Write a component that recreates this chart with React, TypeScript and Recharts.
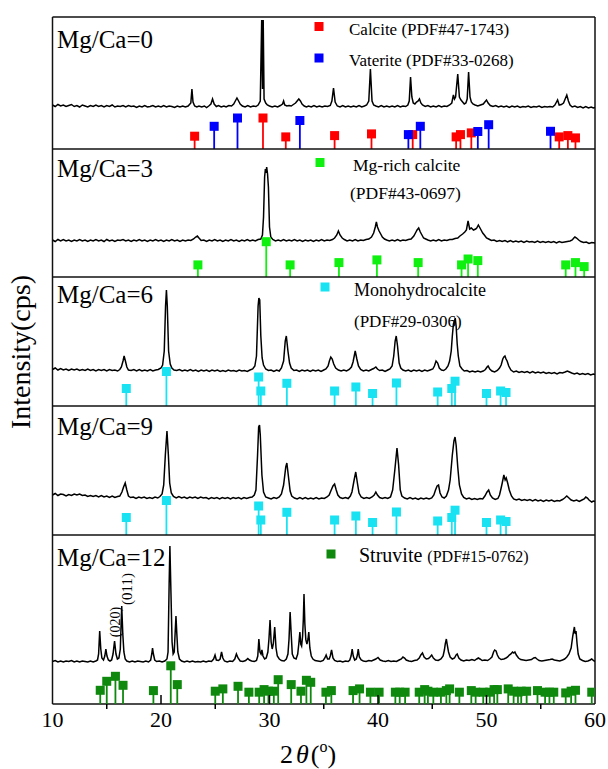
import React from 'react';
import { ComposedChart, Line, Scatter, XAxis, YAxis, ReferenceLine, ReferenceDot } from 'recharts';

type Pt = [number, number];

const FONT = '"Liberation Serif", "Times New Roman", serif';
const CHART_W = 608;
const MARGIN_L = 52.5;
const MARGIN_R = 13;
const PAD = 3;

const TICKS = [10, 15, 20, 25, 30, 35, 40, 45, 50, 55, 60];

// measured patterns, [2θ, intensity (a.u.)]
const scan0: Pt[] = [
  [10, 44], [10.25, 42.5], [10.5, 44.5], [10.75, 43], [11, 44], [11.25, 42.5], [11.5, 43.5], [11.75, 44.5], [12, 42.5], [12.25, 43.5],
  [12.5, 42], [12.75, 44], [13, 43], [13.25, 42], [13.5, 43.5], [13.75, 42.5], [14, 44], [14.25, 42.5], [14.5, 43.5], [14.75, 42],
  [15, 43.5], [15.25, 42.5], [15.5, 44], [15.75, 42], [16, 43], [16.25, 42.5], [16.5, 43.5], [16.75, 42], [17, 43.5], [17.25, 42.5],
  [17.5, 43], [17.75, 41.5], [18, 43], [18.25, 42], [18.5, 43.5], [18.75, 42], [19, 42.5], [19.25, 43.5], [19.5, 42], [19.75, 43],
  [20, 42], [20.25, 43.5], [20.5, 42], [20.75, 43], [21, 42.5], [21.25, 41.5], [21.5, 43], [21.75, 42], [22, 43], [22.25, 42],
  [22.5, 43], [22.75, 46], [22.85, 60], [22.95, 47], [23.1, 43], [23.3, 42], [23.5, 43], [23.75, 42], [24, 43], [24.2, 41.5],
  [24.4, 43], [24.6, 45], [24.75, 50], [24.9, 45], [25.1, 42.5], [25.3, 43.5], [25.55, 42], [25.8, 43], [26, 42], [26.25, 43.5],
  [26.5, 43], [26.7, 45], [26.85, 48], [27.0, 51], [27.15, 48], [27.3, 45], [27.5, 43], [27.75, 42], [28, 43.5], [28.25, 42],
  [28.5, 43], [28.75, 42.5], [28.95, 44], [29.15, 48], [29.28, 129], [29.36, 60], [29.42, 129], [29.5, 50], [29.65, 46], [29.8, 44],
  [30, 43], [30.25, 42], [30.5, 43], [30.75, 42], [31, 43.5], [31.2, 45], [31.3, 48], [31.4, 44], [31.6, 43], [31.8, 43.5],
  [32.0, 43], [32.2, 44.5], [32.4, 46], [32.55, 48], [32.7, 50], [32.85, 48], [33.0, 45], [33.2, 43], [33.4, 42], [33.6, 43],
  [33.85, 42], [34.1, 43.5], [34.35, 42], [34.6, 43], [34.85, 42], [35.1, 43], [35.35, 42.5], [35.6, 43.5], [35.75, 48], [35.9, 61],
  [36.05, 47], [36.25, 43], [36.5, 42], [36.75, 43.5], [37, 42], [37.25, 43], [37.5, 42], [37.75, 43], [38, 42], [38.25, 43.5],
  [38.5, 42], [38.75, 43], [38.95, 44], [39.15, 48], [39.3, 80], [39.45, 48], [39.6, 44], [39.8, 43], [40.05, 42], [40.3, 43.5],
  [40.55, 42], [40.8, 43], [41.05, 42], [41.3, 43], [41.55, 42], [41.8, 43.5], [42.05, 42], [42.3, 43], [42.55, 42.5], [42.75, 44],
  [42.88, 48], [43.0, 72], [43.12, 52], [43.25, 46], [43.4, 45], [43.55, 47], [43.7, 48], [43.82, 50], [43.95, 46], [44.1, 44],
  [44.35, 42.5], [44.6, 43.5], [44.85, 42], [45.1, 43], [45.35, 42], [45.6, 43.5], [45.85, 42], [46.1, 43], [46.35, 42.5], [46.6, 44],
  [46.8, 46], [46.95, 54], [47.05, 50], [47.15, 52], [47.35, 75], [47.5, 52], [47.65, 49], [47.8, 47], [47.95, 45], [48.1, 46],
  [48.22, 50], [48.35, 77], [48.48, 52], [48.6, 47], [48.75, 45], [48.95, 44], [49.2, 43], [49.45, 44], [49.7, 45], [49.85, 47],
  [50.0, 49], [50.15, 46], [50.35, 43.5], [50.6, 42.5], [50.85, 43.5], [51.1, 42], [51.35, 43], [51.6, 42], [51.85, 43], [52.1, 41.5],
  [52.35, 43], [52.6, 42], [52.85, 43], [53.1, 41.5], [53.35, 42.5], [53.6, 42], [53.85, 43], [54.1, 41.5], [54.35, 42.5], [54.6, 42],
  [54.85, 43], [55.1, 41.5], [55.35, 42.5], [55.6, 42], [55.85, 42.5], [56.1, 42], [56.3, 44], [56.45, 47], [56.55, 49], [56.7, 44],
  [56.9, 44.5], [57.1, 46], [57.25, 50], [57.4, 54], [57.55, 48], [57.7, 44], [57.9, 42], [58.15, 43], [58.4, 41.5], [58.65, 42.5],
  [58.9, 41], [59.15, 42.5], [59.4, 41], [59.65, 42], [59.85, 41], [60, 41.5],
];

const scan3: Pt[] = [
  [10, 37], [10.25, 35.5], [10.5, 37.5], [10.75, 36], [11, 37.5], [11.25, 36], [11.5, 37], [11.75, 35.5], [12, 37], [12.25, 36],
  [12.5, 37.5], [12.75, 36], [13, 37], [13.25, 35.5], [13.5, 37], [13.75, 36], [14, 37.5], [14.25, 36], [14.5, 37], [14.75, 35.5],
  [15, 37.5], [15.25, 36], [15.5, 37], [15.75, 35.5], [16, 37], [16.25, 36.5], [16.5, 37.5], [16.75, 36], [17, 37], [17.25, 35.5],
  [17.5, 37], [17.75, 36], [18, 37.5], [18.25, 36], [18.5, 37], [18.75, 35.5], [19, 37], [19.25, 36], [19.5, 37.5], [19.75, 36],
  [20, 37], [20.25, 35.5], [20.5, 37], [20.75, 36], [21, 37.5], [21.25, 36], [21.5, 37], [21.75, 35.5], [22, 37], [22.25, 36],
  [22.5, 37], [22.75, 36.5], [23.0, 38], [23.2, 40], [23.35, 41], [23.5, 39], [23.7, 36.5], [23.95, 37], [24.2, 35.5], [24.45, 37],
  [24.7, 36], [24.95, 37.5], [25.2, 36], [25.45, 37], [25.7, 35.5], [25.95, 37], [26.2, 36], [26.45, 37.5], [26.7, 36], [26.95, 37],
  [27.2, 35.5], [27.45, 37], [27.7, 36], [27.95, 37.5], [28.2, 36], [28.45, 37], [28.7, 36], [28.95, 37.5], [29.2, 38], [29.35, 42],
  [29.45, 60], [29.55, 100], [29.62, 108], [29.68, 104], [29.74, 110], [29.82, 103], [29.9, 90], [30.0, 50], [30.12, 40], [30.3, 37.5],
  [30.55, 36], [30.8, 37], [31.05, 36], [31.3, 37.5], [31.55, 36], [31.8, 37], [32.05, 36], [32.3, 37.5], [32.55, 36], [32.8, 37],
  [33.05, 35.5], [33.3, 37], [33.55, 36], [33.8, 37], [34.05, 35.5], [34.3, 37], [34.55, 36], [34.8, 37.5], [35.05, 36], [35.3, 37],
  [35.55, 36.5], [35.8, 37.5], [36.0, 39], [36.2, 42], [36.35, 46], [36.5, 42], [36.7, 39], [36.9, 37.5], [37.15, 36], [37.4, 37],
  [37.65, 36], [37.9, 37.5], [38.15, 36], [38.4, 37], [38.65, 36.5], [38.9, 37.5], [39.15, 38], [39.4, 40], [39.6, 44], [39.75, 50],
  [39.85, 55], [39.95, 50], [40.1, 46], [40.25, 43], [40.4, 40], [40.6, 38], [40.8, 37], [41.05, 36], [41.3, 37], [41.55, 36],
  [41.8, 37.5], [42.05, 36], [42.3, 37], [42.55, 36.5], [42.8, 37.5], [43.05, 38], [43.3, 41], [43.5, 45], [43.6, 47], [43.75, 49],
  [43.9, 45], [44.05, 42], [44.2, 39], [44.4, 38], [44.6, 37], [44.85, 36], [45.1, 37], [45.35, 36], [45.6, 37.5], [45.85, 36],
  [46.1, 37], [46.35, 36.5], [46.6, 37.5], [46.85, 37.5], [47.1, 38.5], [47.35, 39], [47.55, 41], [47.8, 43], [48.0, 45], [48.15, 47],
  [48.3, 56], [48.45, 48], [48.6, 49], [48.8, 47], [49.0, 48], [49.1, 49], [49.25, 52], [49.35, 50], [49.5, 47], [49.65, 44],
  [49.8, 42], [50.0, 39], [50.2, 38], [50.45, 36.5], [50.7, 37], [50.95, 35.5], [51.2, 36.5], [51.45, 35.5], [51.7, 36.5], [51.95, 35],
  [52.2, 36.5], [52.45, 35], [52.7, 36], [52.95, 35], [53.2, 36], [53.45, 34.5], [53.7, 36], [53.95, 35], [54.2, 35.5], [54.45, 34.5],
  [54.7, 36], [54.95, 34.5], [55.2, 35.5], [55.45, 34.5], [55.7, 35.5], [55.95, 34.5], [56.2, 35.5], [56.45, 34], [56.7, 35.5], [56.95, 34.5],
  [57.2, 35], [57.45, 35.5], [57.7, 36], [57.9, 37], [58.05, 39], [58.15, 40], [58.3, 39], [58.5, 37], [58.7, 35.5], [58.95, 34.5],
  [59.2, 35], [59.45, 33.5], [59.7, 34.5], [60, 34],
];

const scan6: Pt[] = [
  [10, 36.5], [10.25, 38], [10.5, 36], [10.75, 37.5], [11, 36], [11.25, 37], [11.5, 35.5], [11.75, 37], [12, 36], [12.25, 37],
  [12.5, 35.5], [12.75, 36.5], [13, 35.5], [13.25, 37], [13.5, 35.5], [13.75, 36.5], [14, 35], [14.25, 36.5], [14.5, 35.5], [14.75, 36.5],
  [15, 35], [15.25, 36.5], [15.5, 35.5], [15.75, 36], [16, 35], [16.2, 36.5], [16.35, 39], [16.5, 45], [16.6, 50], [16.72, 45],
  [16.85, 39], [17.0, 36], [17.25, 35.5], [17.5, 36.5], [17.75, 35], [18, 36.5], [18.25, 35], [18.5, 36], [18.75, 35], [19, 36.5],
  [19.25, 35], [19.5, 36], [19.75, 36.5], [20.0, 38], [20.15, 41], [20.3, 55], [20.42, 100], [20.5, 116], [20.58, 100], [20.7, 55],
  [20.85, 42], [21.0, 38], [21.2, 36], [21.45, 35.5], [21.7, 36.5], [21.95, 35], [22.2, 36], [22.45, 35], [22.7, 36.5], [22.95, 35],
  [23.2, 36], [23.45, 34.5], [23.7, 36], [23.95, 35], [24.2, 36], [24.45, 34.5], [24.7, 36], [24.95, 35], [25.2, 36], [25.45, 34.5],
  [25.7, 35.5], [25.95, 34.5], [26.2, 36], [26.45, 35], [26.7, 35.5], [26.95, 34.5], [27.2, 36], [27.45, 35], [27.7, 35.5], [27.95, 34.5],
  [28.2, 36], [28.45, 37], [28.65, 40], [28.8, 50], [28.95, 100], [29.02, 108], [29.1, 106], [29.2, 70], [29.32, 48], [29.45, 41],
  [29.65, 37], [29.9, 35.5], [30.15, 36], [30.4, 34.5], [30.65, 36], [30.9, 35], [31.1, 38], [31.3, 45], [31.45, 65], [31.55, 70],
  [31.7, 55], [31.85, 43], [32.0, 38], [32.25, 35.5], [32.5, 36], [32.75, 34.5], [33.0, 36], [33.25, 35], [33.5, 36], [33.75, 34.5],
  [34.0, 36], [34.25, 35], [34.5, 36], [34.75, 34.5], [35.0, 36], [35.2, 37], [35.4, 40], [35.52, 45], [35.65, 49], [35.78, 47],
  [35.92, 42], [36.1, 38], [36.35, 36], [36.6, 35], [36.85, 36], [37.1, 35], [37.35, 36.5], [37.55, 39], [37.7, 44], [37.9, 55],
  [38.05, 47], [38.2, 40], [38.4, 36.5], [38.65, 35], [38.9, 36], [39.15, 35], [39.4, 36.5], [39.6, 37.5], [39.8, 39], [39.95, 37],
  [40.15, 35.5], [40.4, 36], [40.65, 34.5], [40.9, 36], [41.1, 37], [41.3, 40], [41.45, 50], [41.58, 65], [41.68, 70], [41.8, 60],
  [41.95, 43], [42.1, 38], [42.3, 36], [42.55, 35], [42.8, 36], [43.05, 34.5], [43.3, 36], [43.55, 35], [43.8, 36], [44.05, 34.5],
  [44.3, 36], [44.55, 35], [44.8, 36], [45.05, 37], [45.2, 40], [45.35, 45], [45.5, 43], [45.65, 38], [45.85, 36], [46.05, 35.5],
  [46.25, 37], [46.45, 40], [46.6, 45], [46.75, 55], [46.85, 70], [46.95, 82], [47.05, 85], [47.12, 88], [47.2, 80], [47.3, 62],
  [47.4, 50], [47.55, 40], [47.75, 37], [47.95, 35], [48.2, 35.5], [48.45, 34], [48.7, 35], [48.95, 34], [49.2, 35], [49.45, 34],
  [49.7, 35], [49.9, 36.5], [50.05, 39], [50.15, 40], [50.3, 37], [50.5, 35], [50.75, 34], [51.0, 35.5], [51.2, 38], [51.35, 41],
  [51.5, 47], [51.6, 49], [51.7, 50], [51.8, 47], [51.9, 45], [52.05, 40], [52.25, 36], [52.5, 34], [52.75, 35], [53.0, 33.5],
  [53.25, 34.5], [53.5, 33.5], [53.75, 34.5], [54.0, 33], [54.25, 34.5], [54.5, 33], [54.75, 34], [55.0, 33], [55.25, 34], [55.5, 32.5],
  [55.75, 33.5], [56.0, 32.5], [56.25, 33.5], [56.5, 32], [56.75, 33.5], [57.0, 33], [57.25, 34], [57.45, 35], [57.65, 34], [57.85, 33],
  [58.1, 32], [58.35, 33], [58.6, 31.5], [58.85, 32.5], [59.1, 31.5], [59.35, 32.5], [59.6, 31], [59.85, 32], [60, 31.5],
];

const scan9: Pt[] = [
  [10, 40], [10.25, 41.5], [10.5, 39.5], [10.75, 41], [11, 40.5], [11.25, 39], [11.5, 40.5], [11.75, 39.5], [12, 41], [12.25, 40],
  [12.5, 41], [12.75, 39.5], [13, 40], [13.25, 38.5], [13.5, 39.5], [13.75, 38.5], [14, 39.5], [14.25, 38], [14.5, 39.5], [14.75, 38],
  [15, 39], [15.25, 37.5], [15.5, 39], [15.75, 37.5], [16, 38.5], [16.2, 39], [16.4, 43], [16.55, 48], [16.7, 52], [16.85, 45],
  [17.0, 39], [17.2, 37.5], [17.45, 38], [17.7, 36.5], [17.95, 38], [18.2, 37], [18.45, 38], [18.7, 36.5], [18.95, 37.5], [19.2, 36.5],
  [19.45, 38], [19.7, 37], [19.9, 38.5], [20.1, 41], [20.25, 50], [20.4, 80], [20.55, 104], [20.68, 80], [20.8, 52], [20.95, 42],
  [21.15, 38.5], [21.4, 37], [21.65, 38.5], [21.9, 37], [22.15, 38], [22.4, 36.5], [22.65, 38], [22.9, 37], [23.15, 38], [23.4, 36.5],
  [23.65, 38], [23.9, 37], [24.15, 37.5], [24.4, 36], [24.65, 37.5], [24.9, 36.5], [25.15, 37.5], [25.4, 36], [25.65, 37.5], [25.9, 36.5],
  [26.15, 37.5], [26.4, 36], [26.65, 37.5], [26.9, 36.5], [27.15, 37.5], [27.4, 36], [27.65, 37.5], [27.9, 36.5], [28.15, 37.5], [28.4, 38],
  [28.6, 40], [28.75, 45], [28.9, 80], [29.0, 108], [29.08, 110], [29.15, 100], [29.3, 60], [29.45, 43], [29.65, 38], [29.9, 37],
  [30.15, 36], [30.4, 37.5], [30.65, 36.5], [30.9, 38], [31.1, 41], [31.3, 50], [31.5, 68], [31.6, 72], [31.75, 58], [31.9, 44],
  [32.05, 39], [32.3, 37], [32.55, 36], [32.8, 37.5], [33.05, 36], [33.3, 37.5], [33.55, 36], [33.8, 37], [34.05, 36], [34.3, 37.5],
  [34.55, 36], [34.8, 37], [35.05, 36.5], [35.3, 38], [35.5, 40], [35.65, 44], [35.85, 49], [36.0, 51], [36.15, 45], [36.3, 40],
  [36.5, 37.5], [36.75, 36.5], [37.0, 37.5], [37.25, 36.5], [37.45, 39], [37.6, 43], [37.8, 55], [37.95, 63], [38.1, 52], [38.25, 42],
  [38.45, 38], [38.7, 36.5], [38.95, 37.5], [39.2, 36.5], [39.45, 38], [39.65, 40], [39.8, 43], [39.95, 40], [40.15, 37.5], [40.4, 36.5],
  [40.65, 37.5], [40.9, 36.5], [41.15, 38], [41.35, 45], [41.55, 65], [41.75, 87], [41.9, 70], [42.05, 45], [42.2, 39], [42.45, 37],
  [42.7, 36], [42.95, 37.5], [43.2, 36], [43.45, 37], [43.7, 35.5], [43.95, 37], [44.2, 36], [44.45, 37], [44.7, 36], [44.95, 37],
  [45.15, 40], [45.3, 45], [45.45, 49], [45.58, 50], [45.72, 42], [45.9, 38], [46.1, 37], [46.3, 39], [46.5, 45], [46.65, 55],
  [46.85, 80], [47.0, 94], [47.1, 98], [47.2, 90], [47.35, 68], [47.5, 50], [47.7, 41], [47.9, 37.5], [48.15, 36], [48.4, 37],
  [48.65, 35.5], [48.9, 36.5], [49.15, 35.5], [49.4, 36.5], [49.65, 36], [49.85, 39], [50.05, 43], [50.2, 45], [50.35, 40], [50.55, 37],
  [50.8, 35.5], [51.05, 36.5], [51.2, 40], [51.35, 47], [51.45, 52], [51.6, 60], [51.72, 55], [51.82, 57], [51.95, 52], [52.1, 45],
  [52.3, 39], [52.5, 36], [52.75, 35], [53.0, 36], [53.25, 34.5], [53.5, 35.5], [53.75, 34.5], [54.0, 35.5], [54.25, 34], [54.5, 35.5],
  [54.75, 34], [55.0, 35], [55.25, 33.5], [55.5, 35], [55.75, 34], [56.0, 35], [56.25, 33.5], [56.5, 34.5], [56.75, 34], [57.0, 35.5],
  [57.2, 37], [57.4, 39], [57.6, 37], [57.8, 35], [58.05, 34], [58.3, 35], [58.55, 33.5], [58.8, 35], [59.0, 36], [59.15, 38],
  [59.3, 37], [59.45, 35], [59.7, 33], [59.85, 34], [60, 33.5],
];

const scan12: Pt[] = [
  [10, 42.5], [10.25, 43.5], [10.5, 42], [10.75, 43], [11, 42], [11.25, 43], [11.5, 42.5], [11.75, 43.5], [12, 42], [12.25, 43],
  [12.5, 42], [12.75, 43], [13, 42.5], [13.25, 42], [13.5, 43], [13.75, 42], [14, 43], [14.15, 44], [14.25, 50], [14.35, 73],
  [14.45, 55], [14.55, 46], [14.7, 44], [14.82, 48], [14.92, 55], [15.02, 48], [15.15, 44], [15.3, 43], [15.45, 44], [15.58, 50],
  [15.72, 63], [15.85, 50], [15.98, 45], [16.12, 46], [16.25, 55], [16.38, 98], [16.48, 70], [16.58, 52], [16.7, 45], [16.85, 43],
  [17.1, 42], [17.35, 43], [17.6, 42], [17.85, 43], [18.1, 42.5], [18.35, 42], [18.6, 43], [18.85, 42], [19.05, 44], [19.15, 50],
  [19.22, 56], [19.3, 50], [19.42, 44], [19.6, 42.5], [19.85, 43], [20.1, 42], [20.35, 43], [20.55, 45], [20.65, 52], [20.75, 120],
  [20.82, 158], [20.92, 110], [21.02, 62], [21.12, 50], [21.22, 52], [21.32, 75], [21.38, 88], [21.46, 70], [21.55, 52], [21.7, 45],
  [21.9, 43], [22.15, 42], [22.4, 43], [22.65, 42], [22.9, 43], [23.15, 42], [23.4, 42.5], [23.65, 42], [23.9, 43], [24.15, 42],
  [24.4, 43], [24.65, 42.5], [24.85, 45], [24.98, 49], [25.1, 44], [25.3, 43.5], [25.45, 45], [25.58, 52], [25.7, 46], [25.85, 43],
  [26.1, 42], [26.35, 43], [26.6, 42.5], [26.8, 45], [26.95, 50], [27.1, 46], [27.3, 43], [27.55, 42.5], [27.8, 43.5], [28.0, 45.5],
  [28.15, 44], [28.35, 43], [28.6, 42.5], [28.8, 43.5], [28.92, 48], [29.02, 65], [29.12, 52], [29.22, 50], [29.3, 54], [29.4, 48],
  [29.55, 45], [29.7, 46], [29.85, 52], [29.95, 65], [30.05, 84], [30.15, 62], [30.25, 55], [30.35, 60], [30.48, 77], [30.6, 56],
  [30.72, 48], [30.9, 45], [31.1, 43.5], [31.35, 43], [31.55, 45], [31.7, 50], [31.8, 65], [31.9, 92], [32.0, 70], [32.1, 50],
  [32.25, 46], [32.45, 45], [32.6, 50], [32.7, 60], [32.8, 72], [32.88, 60], [32.96, 58], [33.05, 68], [33.12, 85], [33.18, 110],
  [33.26, 80], [33.35, 64], [33.45, 60], [33.55, 65], [33.62, 72], [33.72, 56], [33.85, 48], [34.0, 45], [34.2, 43.5], [34.45, 43],
  [34.7, 42.5], [34.95, 43.5], [35.1, 46], [35.22, 49], [35.35, 45], [35.5, 45], [35.6, 48], [35.72, 54], [35.85, 46], [36.0, 43.5],
  [36.25, 42.5], [36.5, 43], [36.75, 42], [37.0, 43], [37.25, 42.5], [37.4, 44], [37.52, 48], [37.62, 55], [37.72, 48], [37.85, 44],
  [38.0, 45], [38.1, 49], [38.18, 55], [38.28, 47], [38.45, 44], [38.65, 43], [38.9, 42.5], [39.15, 43.5], [39.4, 43], [39.6, 44],
  [39.8, 45], [40.0, 46.5], [40.2, 44], [40.45, 43], [40.7, 42.5], [40.95, 43.5], [41.2, 42.5], [41.45, 43], [41.7, 42.5], [41.95, 44],
  [42.15, 45], [42.3, 47], [42.45, 46], [42.6, 44], [42.85, 43], [43.1, 42.5], [43.35, 43.5], [43.6, 44], [43.8, 46], [43.95, 49],
  [44.1, 51], [44.25, 47], [44.45, 45], [44.65, 45.5], [44.8, 47], [44.95, 49], [45.1, 46], [45.3, 44], [45.55, 43.5], [45.8, 45],
  [46.0, 48], [46.12, 54], [46.2, 60], [46.3, 65], [46.4, 58], [46.5, 52], [46.65, 47], [46.85, 45], [47.05, 46], [47.2, 49],
  [47.3, 50], [47.45, 46], [47.65, 44], [47.9, 43], [48.15, 44], [48.4, 43.5], [48.65, 44.5], [48.9, 43.5], [49.1, 45], [49.25, 46],
  [49.4, 45], [49.6, 43.5], [49.85, 44], [50.1, 43.5], [50.3, 45], [50.5, 47], [50.65, 52], [50.75, 54], [50.88, 53], [51.0, 49],
  [51.15, 46], [51.35, 44.5], [51.6, 45], [51.8, 46], [51.95, 47], [52.1, 49], [52.25, 50], [52.4, 52], [52.52, 51], [52.62, 52],
  [52.75, 49], [52.95, 46], [53.15, 44.5], [53.4, 44], [53.65, 43.5], [53.9, 44], [54.15, 44.5], [54.35, 46], [54.5, 46.5], [54.65, 45],
  [54.85, 43.5], [55.1, 43], [55.35, 43.5], [55.6, 44], [55.85, 44.5], [56.05, 45], [56.25, 44], [56.5, 43.5], [56.75, 43], [57.0, 44],
  [57.2, 45], [57.4, 47], [57.6, 50], [57.8, 56], [57.95, 68], [58.05, 74], [58.1, 77], [58.18, 70], [58.25, 73], [58.35, 60],
  [58.45, 50], [58.6, 45], [58.85, 43.5], [59.1, 42.5], [59.35, 43], [59.55, 44], [59.7, 45], [59.85, 43.5], [60, 42.5],
];

// standard cards, [2θ, relative intensity]
const calcite: Pt[] = [
  [23.1, 12.3], [29.4, 30.5], [31.5, 11.6], [36.0, 12.9], [39.4, 14.6], [43.2, 13.9],
  [47.2, 11.6], [47.6, 13.9], [48.6, 15.6], [56.7, 11.6], [57.5, 12.9], [58.2, 10.6],
];
const vaterite: Pt[] = [
  [24.9, 22.2], [27.05, 30.5], [32.8, 28], [42.8, 13.9], [43.9, 22.2], [49.2, 17], [50.2, 23.8], [55.9, 17.2],
];
const mgCalcite: Pt[] = [
  [23.4, 11.6], [29.7, 34.8], [31.9, 11.6], [36.4, 13.9], [39.9, 16.6], [43.7, 13.9],
  [47.7, 11.6], [48.3, 17.5], [49.2, 15.9], [57.3, 11.6], [58.2, 13.9], [59.0, 9.9],
];
const monohydrocalcite: Pt[] = [
  [16.8, 17], [20.5, 34], [29.0, 28.5], [29.2, 14.5], [31.6, 22.2], [36.0, 14.5], [37.96, 18.5], [39.5, 12],
  [41.7, 22.5], [45.5, 13.5], [46.8, 17], [47.1, 24.3], [50.0, 12], [51.3, 14.5], [51.8, 13],
];
const struvite: Pt[] = [
  [14.4, 13.2], [15.0, 22.2], [15.8, 27.2], [16.5, 18.2], [19.3, 12.9], [20.9, 37.7], [21.5, 18.9], [25.0, 12.3],
  [25.7, 14.6], [27.1, 17.2], [28.1, 11.3], [29.05, 11.3], [29.5, 13.9], [29.9, 12.3], [30.4, 12.3], [30.8, 23.8],
  [32.0, 18.9], [32.9, 12.3], [33.4, 23.2], [33.8, 21.2], [35.2, 11.3], [35.7, 12.9], [37.7, 12.9], [38.3, 14.6],
  [39.3, 11.3], [40.1, 11.3], [41.6, 11.3], [42.0, 11.3], [42.5, 11.3], [43.8, 11.3], [44.3, 13.9], [44.6, 12.3],
  [45.1, 11.3], [45.8, 11.3], [46.3, 12.9], [46.6, 14.6], [47.5, 11.3], [48.6, 12.9], [49.0, 11.3], [49.7, 11.3],
  [50.3, 11.3], [50.7, 13.9], [51.0, 13.9], [52.0, 14.6], [52.5, 12.3], [52.9, 11.3], [53.2, 12.3], [53.7, 12.3],
  [54.7, 12.9], [55.4, 11.3], [55.8, 11.3], [56.2, 11.3], [57.3, 10.6], [57.8, 12.3], [58.2, 13.2], [59.7, 11.3],
];

const sampleLabels = ['Mg/Ca=0', 'Mg/Ca=3', 'Mg/Ca=6', 'Mg/Ca=9', 'Mg/Ca=12'];

type Phase = { name: string; color: string; sticks: Pt[] };
type AxisMode = 'none' | 'inner' | 'labels';

const RED = '#ff0000';
const BLUE = '#0000ff';
const LIME = '#10f010';
const CYAN = '#19e3f2';
const GREEN = '#0e890e';

const panels: { top: number; h: number; scan: Pt[]; phases: Phase[]; axis: AxisMode }[] = [
  { top: 17, h: 132, scan: scan0, axis: 'none', phases: [{ name: 'Calcite', color: RED, sticks: calcite }, { name: 'Vaterite', color: BLUE, sticks: vaterite }] },
  { top: 149, h: 128, scan: scan3, axis: 'none', phases: [{ name: 'Mg-rich calcite', color: LIME, sticks: mgCalcite }] },
  { top: 277, h: 129, scan: scan6, axis: 'inner', phases: [{ name: 'Monohydrocalcite', color: CYAN, sticks: monohydrocalcite }] },
  { top: 406, h: 129, scan: scan9, axis: 'inner', phases: [{ name: 'Monohydrocalcite', color: CYAN, sticks: monohydrocalcite }] },
  { top: 535, h: 169, scan: scan12, axis: 'labels', phases: [{ name: 'Struvite', color: GREEN, sticks: struvite }] },
];

const toRows = (pts: Pt[]) => pts.map(([x, y]) => ({ x, y }));

const stickShape = (color: string, base: number) => (p: any) => (
  <g>
    <line x1={p.cx} x2={p.cx} y1={p.cy} y2={base} stroke={color} strokeWidth={1.8} />
    <rect x={p.cx - 4.5} y={p.cy - 5} width={9} height={9} fill={color} />
  </g>
);

const renderTick = (mode: AxisMode) => (p: any) => {
  const { x, y, payload } = p;
  const v = payload.value;
  const major = v % 10 === 0;
  if (v === 10 || v === 60) {
    return mode === 'labels' ? (
      <text x={x} y={y + 22.5} textAnchor="middle" fontSize={22} fontFamily={FONT} fill="#000">{v}</text>
    ) : <g />;
  }
  const y2 = major ? y - 9 : mode === 'labels' ? y + 5 : y - 5;
  return (
    <g>
      <line x1={x} x2={x} y1={y} y2={y2} stroke="#000" strokeWidth={1.5} />
      {mode === 'labels' && major && (
        <text x={x} y={y + 22.5} textAnchor="middle" fontSize={22} fontFamily={FONT} fill="#000">{v}</text>
      )}
    </g>
  );
};

const border = { stroke: '#111', strokeWidth: 1.5 };

function Panel({ top, h, scan, phases, axis, index }: { top: number; h: number; scan: Pt[]; phases: Phase[]; axis: AxisMode; index: number }) {
  const extra = axis === 'labels' ? 50 : 0;
  return (
    <div style={{ position: 'absolute', left: 0, top: top - PAD }}>
      <ComposedChart
        width={CHART_W}
        height={h + PAD * 2 + extra}
        margin={{ top: PAD, right: MARGIN_R, bottom: PAD, left: MARGIN_L }}
      >
        <XAxis
          xAxisId="b"
          type="number"
          dataKey="x"
          domain={[10, 60]}
          ticks={TICKS}
          interval={0}
          allowDataOverflow
          height={extra}
          tickSize={0}
          tickMargin={0}
          tickLine={false}
          tick={axis === 'none' ? false : renderTick(axis)}
          axisLine={border}
        />
        <YAxis yAxisId="l" type="number" domain={[0, h]} allowDataOverflow hide />
        <ReferenceLine xAxisId="b" yAxisId="l" y={h} stroke="#111" strokeWidth={1.5} />
        <ReferenceLine xAxisId="b" yAxisId="l" x={10} stroke="#111" strokeWidth={1.5} />
        <ReferenceLine xAxisId="b" yAxisId="l" x={60} stroke="#111" strokeWidth={1.5} />
        <Line
          xAxisId="b"
          yAxisId="l"
          data={toRows(scan)}
          dataKey="y"
          type="linear"
          stroke="#000"
          strokeWidth={1.5}
          dot={false}
          isAnimationActive={false}
        />
        {phases.map((ph) => (
          <Scatter
            key={ph.name + index}
            xAxisId="b"
            yAxisId="l"
            name={ph.name}
            data={toRows(ph.sticks)}
            dataKey="y"
            fill={ph.color}
            shape={stickShape(ph.color, PAD + h)}
            isAnimationActive={false}
          />
        ))}
        {index === 4 && (
          <ReferenceDot
            xAxisId="b"
            yAxisId="l"
            x={15.78}
            y={82}
            r={0}
            shape={(p: any) => (
              <text transform={`rotate(-90 ${p.cx} ${p.cy})`} x={p.cx} y={p.cy} textAnchor="middle" dominantBaseline="central" fontSize={14} fontFamily={FONT}>(020)</text>
            )}
          />
        )}
        {index === 4 && (
          <ReferenceDot
            xAxisId="b"
            yAxisId="l"
            x={16.85}
            y={115}
            r={0}
            shape={(p: any) => (
              <text transform={`rotate(-90 ${p.cx} ${p.cy})`} x={p.cx} y={p.cy} textAnchor="middle" dominantBaseline="central" fontSize={15} fontFamily={FONT}>(011)</text>
            )}
          />
        )}
      </ComposedChart>
    </div>
  );
}

const labelBaselines = [48, 177, 303, 435, 566];

export default function App() {
  return (
    <div style={{ position: 'relative', width: 608, height: 769, background: '#fff', overflow: 'hidden' }}>
      <style>{'body{margin:0}'}</style>
      {panels.map((p, i) => (
        <Panel key={i} index={i} {...p} />
      ))}
      <svg width={608} height={769} style={{ position: 'absolute', left: 0, top: 0, pointerEvents: 'none' }} fontFamily={FONT}>
        {sampleLabels.map((t, i) => (
          <text key={t} x={57} y={labelBaselines[i]} fontSize={25} fill="#000">{t}</text>
        ))}
        {/* legends */}
        <rect x={314.5} y={22} width={9} height={9} fill={RED} />
        <text x={349} y={35} fontSize={17} fill="#000">Calcite (PDF#47-1743)</text>
        <rect x={314.5} y={53.5} width={9} height={9} fill={BLUE} />
        <text x={349} y={65.5} fontSize={17} fill="#000">Vaterite (PDF#33-0268)</text>

        <rect x={315.5} y={158} width={9} height={9} fill={LIME} />
        <text x={353} y={171} fontSize={17.5} fill="#000">Mg-rich calcite</text>
        <text x={350} y={199} fontSize={17.5} fill="#000">(PDF#43-0697)</text>

        <rect x={320.5} y={282.5} width={9} height={9} fill={CYAN} />
        <text x={354} y={296} fontSize={18} fill="#000">Monohydrocalcite</text>
        <text x={354} y={327} fontSize={17} fill="#000">(PDF#29-0306)</text>

        <rect x={326.5} y={549.5} width={9} height={9} fill={GREEN} />
        <text x={359} y={561.5} fontSize={20} fill="#000">
          Struvite <tspan fontSize={16}>(PDF#15-0762)</tspan>
        </text>

        <text transform="translate(30,352) rotate(-90)" textAnchor="middle" fontSize={28} fill="#000">Intensity(cps)</text>
        <text x={308} y={763} textAnchor="middle" fontSize={26} fill="#000">
          2<tspan fontStyle="italic" dx={3}>θ</tspan>
          <tspan dx={2}>(</tspan>
          <tspan fontSize={16} dy={-11}>o</tspan>
          <tspan dy={11}>)</tspan>
        </text>
      </svg>
    </div>
  );
}
